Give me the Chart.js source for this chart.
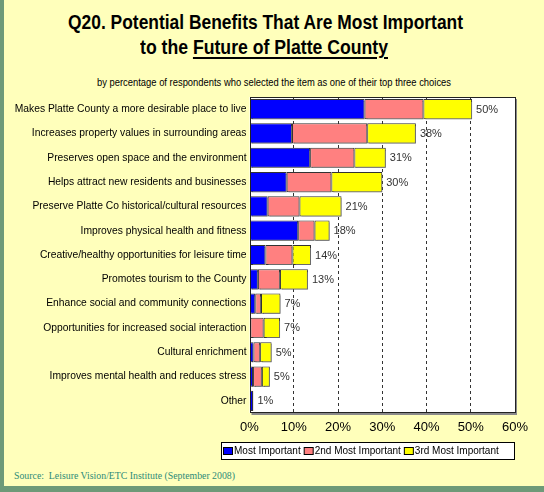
<!DOCTYPE html>
<html>
<head>
<meta charset="utf-8">
<script src="https://cdn.jsdelivr.net/npm/chart.js@4.4.1/dist/chart.umd.min.js"></script>
<style>
  html, body { margin:0; padding:0; }
  body { width:544px; height:492px; background:#FFFFBB; position:relative; overflow:hidden; font-family:"Liberation Sans", Arial, sans-serif; }
  #leftbar { position:absolute; left:0; top:0; width:4px; height:492px; background:#6E9A78; }
  #bottombar { position:absolute; left:0; top:486px; width:544px; height:6px; background:#6E9A78; }
  .t { position:absolute; white-space:nowrap; transform-origin:0 0; color:#000; }
  #t1, #t2 { font-weight:bold; font-size:19.5px; line-height:22px; }
  #sub { font-size:10px; line-height:12px; }
  #src { font-family:"Liberation Serif", "Times New Roman", serif; font-size:11px; line-height:13px; color:#2E8B78; }
  #t2 u { text-decoration-thickness:2px; text-underline-offset:3px; }
  canvas { position:absolute; left:0; top:0; }
</style>
</head>
<body>
<div id="leftbar"></div>
<div id="bottombar"></div>
<div class="t" id="t1">Q20. Potential Benefits That Are Most Important</div>
<div class="t" id="t2">to the <u>Future of Platte County</u></div>
<div class="t" id="sub">by percentage of respondents who selected the item as one of their top three choices</div>
<div class="t" id="src">Source:&nbsp; Leisure Vision/ETC Institute (September 2008)</div>
<canvas id="c" width="544" height="492"></canvas>
<script>
const categories = [
  "Makes Platte County a more desirable place to live",
  "Increases property values in surrounding areas",
  "Preserves open space and the environment",
  "Helps attract new residents and businesses",
  "Preserve Platte Co historical/cultural resources",
  "Improves physical health and fitness",
  "Creative/healthy opportunities for leisure time",
  "Promotes tourism to the County",
  "Enhance social and community connections",
  "Opportunities for increased social interaction",
  "Cultural enrichment",
  "Improves mental health and reduces stress",
  "Other"
];
const mostImportant   = [26.0, 9.6, 13.7, 8.4, 4.1, 11.0, 3.6, 1.9, 1.3, 0.2, 0.9, 0.8, 0.8];
const secondImportant = [13.3, 17.0, 10.0, 10.1, 7.2, 3.7, 6.1, 5.0, 1.3, 3.0, 1.5, 2.0, 0.05];
const thirdImportant  = [11.0, 11.0, 7.1, 11.5, 9.5, 3.4, 4.2, 6.3, 4.4, 3.7, 2.6, 1.8, 0.05];
const seriesNames = ["Most Important", "2nd Most Important", "3rd Most Important"];
const xTicks = [0, 10, 20, 30, 40, 50, 60];

// fit HTML text to measured widths of the reference
function place(id, left, top, width) {
  const el = document.getElementById(id);
  el.style.left = left + "px";
  el.style.top = top + "px";
  const w = el.getBoundingClientRect().width;
  el.style.transform = "scaleX(" + (width / w) + ")";
}
place("t1", 68, 11, 395);
place("t2", 140, 36, 248);
place("sub", 97, 77, 354);
place("src", 14, 469, 221);

const FONT = "'Liberation Sans', Arial, sans-serif";

const plotFrame = {
  id: "plotFrame",
  beforeDraw(chart) {
    const a = chart.chartArea, ctx = chart.ctx;
    ctx.save();
    ctx.fillStyle = "#FFFFFF";
    ctx.fillRect(a.left, a.top, a.right - a.left, a.bottom - a.top);
    ctx.restore();
  },
  beforeDatasetsDraw(chart) {
    const ctx = chart.ctx;
    ctx.save();
    ctx.shadowColor = "rgba(120,120,120,0.8)";
    ctx.shadowOffsetX = 2;
    ctx.shadowOffsetY = 2;
    ctx.shadowBlur = 0;
  },
  afterDatasetsDraw(chart) {
    const ctx = chart.ctx, a = chart.chartArea;
    ctx.restore();
    // totals
    const xs = chart.scales.x, ys = chart.scales.y;
    ctx.save();
    ctx.font = "11px " + FONT;
    ctx.fillStyle = "#333333";
    ctx.textBaseline = "middle";
    ctx.textAlign = "left";
    categories.forEach((c, i) => {
      const total = mostImportant[i] + secondImportant[i] + thirdImportant[i];
      ctx.fillText(Math.round(total) + "%", xs.getPixelForValue(total) + 4, ys.getPixelForValue(i) + 0.5);
    });
    // frame
    ctx.strokeStyle = "#8A8A8A";
    ctx.lineWidth = 2;
    ctx.beginPath();
    ctx.moveTo(a.left + 2, a.bottom + 1);
    ctx.lineTo(a.right + 1, a.bottom + 1);
    ctx.lineTo(a.right + 1, a.top + 2);
    ctx.stroke();
    ctx.strokeStyle = "#222222";
    ctx.lineWidth = 1;
    ctx.strokeRect(Math.round(a.left) + 0.5, Math.round(a.top) + 0.5, Math.round(a.right - a.left) - 1, Math.round(a.bottom - a.top) - 1);
    ctx.restore();
  },
  afterDraw(chart) {
    const ctx = chart.ctx;
    ctx.save();
    const bx = 221.5, by = 442.5, bw = 293, bh = 17;
    ctx.fillStyle = "#FFFFFF";
    ctx.fillRect(bx, by, bw, bh);
    ctx.strokeStyle = "#000000";
    ctx.lineWidth = 1;
    ctx.strokeRect(bx, by, bw, bh);
    ctx.font = "10px " + FONT;
    ctx.textBaseline = "middle";
    ctx.textAlign = "left";
    let x = 223;
    chart.data.datasets.forEach((ds) => {
      ctx.fillStyle = ds.backgroundColor;
      ctx.fillRect(x + 0.5, 447.5, 9, 7);
      ctx.strokeStyle = "#000000";
      ctx.strokeRect(x + 0.5, 447.5, 9, 7);
      ctx.fillStyle = "#000000";
      ctx.fillText(ds.label, x + 11, 451.5);
      x += 11 + ctx.measureText(ds.label).width + 3;
    });
    ctx.restore();
  }
};

new Chart(document.getElementById("c"), {
  type: "bar",
  data: {
    labels: categories,
    datasets: [
      { label: seriesNames[0], data: mostImportant, backgroundColor: "#0000FF" },
      { label: seriesNames[1], data: secondImportant, backgroundColor: "#FF8080" },
      { label: seriesNames[2], data: thirdImportant, backgroundColor: "#FFFF00" }
    ].map(d => Object.assign(d, { borderColor: "#333333", borderWidth: 1, borderSkipped: false, barPercentage: 0.83, categoryPercentage: 1.0 }))
  },
  options: {
    indexAxis: "y",
    responsive: false,
    animation: false,
    devicePixelRatio: 1,
    layout: { padding: { left: 0, right: 29, top: 97, bottom: 54 } },
    plugins: { legend: { display: false }, title: { display: false }, tooltip: { enabled: false } },
    scales: {
      x: {
        stacked: true, min: 0, max: 60,
        afterBuildTicks(s) { s.ticks = xTicks.map(v => ({ value: v })); },
        afterFit(s) { s.height = 25; },
        ticks: { callback: v => v + "%", color: "#000", font: { family: FONT, size: 13 }, padding: 7, maxRotation: 0 },
        grid: { drawTicks: false, color: ctx => (ctx.tick && (ctx.tick.value === 0 || ctx.tick.value === 60)) ? "rgba(0,0,0,0)" : "#333333", lineWidth: 1 },
        border: { display: false, dash: [3, 3] }
      },
      y: {
        stacked: true,
        afterFit(s) { s.width = 249.5; },
        ticks: { color: "#000", font: { family: FONT, size: 10.3 }, padding: 3, autoSkip: false },
        grid: { display: false, drawTicks: false },
        border: { display: false }
      }
    }
  },
  plugins: [plotFrame]
});
</script>
</body>
</html>
